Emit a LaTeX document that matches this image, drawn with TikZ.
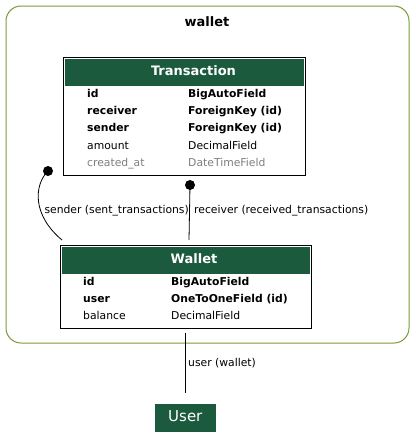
\documentclass[tikz,border=0pt]{standalone}
\usepackage{fontspec}
\setmainfont{DejaVu Sans}
\usetikzlibrary{calc}
\definecolor{hdr}{HTML}{1C5A3E}
\definecolor{olive}{HTML}{7A9A3A}
\definecolor{gtxt}{HTML}{7F7F7F}
\tikzset{
  cluster/.style={draw=olive, line width=1pt, rounded corners=15pt},
  tablebox/.style={draw=black, line width=1pt, fill=white},
  hdrbox/.style={fill=hdr, draw=none},
  hdrtxt/.style={anchor=base, text=white, font=\bfseries\fontsize{13}{15}\selectfont, inner sep=0pt},
  fld/.style={anchor=base west, inner sep=0pt, font=\fontsize{10.8}{12}\selectfont},
  bfld/.style={fld, font=\bfseries\fontsize{10.8}{12}\selectfont},
  gfld/.style={fld, text=gtxt},
  elabel/.style={anchor=base west, inner sep=0pt, font=\fontsize{10.8}{12}\selectfont},
  conn/.style={draw=black, line width=0.8pt},
  enddot/.style={circle, fill=black, inner sep=0pt, minimum size=10pt},
}
\begin{document}
\begin{tikzpicture}[x=1pt,y=-1pt]
\useasboundingbox (0,0) rectangle (415,447);
% cluster
\draw[cluster] (6,6) rectangle (409,343);
\node[anchor=base, font=\bfseries\fontsize{13}{15}\selectfont, inner sep=0pt] (ctitle) at (207,26) {wallet};
% Transaction
\draw[tablebox] (63,57) rectangle (305,175);
\fill[hdrbox] (65,59) rectangle (303.5,86);
\node[hdrtxt] (ttitle) at (193.5,75.5) {Transaction};
\node[bfld] (t1a) at (87,97) {id};
\node[bfld] (t1b) at (188,97) {BigAutoField};
\node[bfld] (t2a) at (87,114) {receiver};
\node[bfld] (t2b) at (188,114) {ForeignKey (id)};
\node[bfld] (t3a) at (87,131.5) {sender};
\node[bfld] (t3b) at (188,131.5) {ForeignKey (id)};
\node[fld] (t4a) at (87,149) {amount};
\node[fld] (t4b) at (188,149) {DecimalField};
\node[gfld] (t5a) at (87,166.5) {created\_at};
\node[gfld] (t5b) at (188,166.5) {DateTimeField};
% Wallet
\draw[tablebox] (60,245) rectangle (311,328);
\fill[hdrbox] (62,247) rectangle (309.5,274);
\node[hdrtxt] (wtitle) at (194,263) {Wallet};
\node[bfld] (w1a) at (83,285) {id};
\node[bfld] (w1b) at (171,285) {BigAutoField};
\node[bfld] (w2a) at (83,302.3) {user};
\node[bfld] (w2b) at (171,302.3) {OneToOneField (id)};
\node[fld] (w3a) at (83,319.3) {balance};
\node[fld] (w3b) at (171,319.3) {DecimalField};
% User
\fill[hdr] (154.5,404) rectangle (216,432);
\node[anchor=base, text=white, inner sep=0pt, font=\fontsize{15}{17}\selectfont] (user) at (185.3,421) {User};
% edges
\node[enddot] (d1) at (48,171) {};
\node[enddot] (d2) at (190,185) {};
\coordinate (s1) at (62,240);
\coordinate (r1) at (189,240);
\coordinate (u0) at (185,333);
\coordinate (u1) at (185,393);
\draw[conn] (d1.center) .. controls (34,185) and (32,215) .. (s1);
\draw[conn] (d2.center) -- (r1);
\draw[conn] (u0) -- (u1);
\node[elabel] (l1) at (44.3,213.3) {sender (sent\_transactions)};
\node[elabel] (l2) at (194,213.3) {receiver (received\_transactions)};
\node[elabel] (l3) at (188,366) {user (wallet)};
\end{tikzpicture}
\end{document}
